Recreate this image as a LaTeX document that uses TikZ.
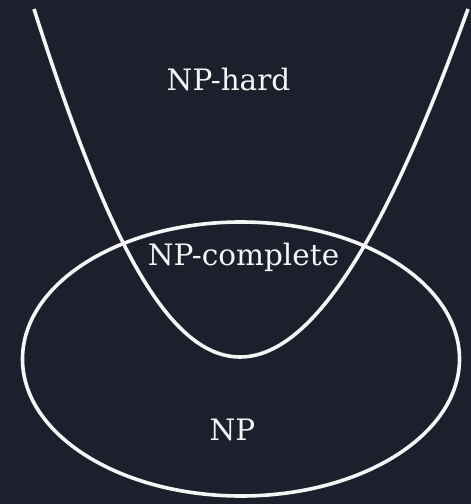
\documentclass[tikz,border=0pt]{standalone}
\usepackage{fontspec}
\setmainfont{DejaVu Serif}
\definecolor{bg}{RGB}{27,32,44}
\definecolor{ink}{RGB}{245,245,245}
\begin{document}
\begin{tikzpicture}[x=1pt,y=-1pt,
  curve/.style={draw=ink, line width=3.6pt},
  lbl/.style={text=ink, font=\fontsize{29.5}{34}\selectfont, anchor=base, inner sep=0pt}]
\fill[bg] (0,0) rectangle (471,504);
\useasboundingbox (0,0) rectangle (471,504);
\draw[curve] (241,359) ellipse [x radius=218.5, y radius=137];
\draw[curve] (34,9) .. controls (98,209) and (160,357) .. (240,357)
  .. controls (320,357) and (396,209) .. (468,9);
\node[lbl] (hard) at (228.5,90) {NP-hard};
\node[lbl] (complete) at (243.5,265) {NP-complete};
\node[lbl] (np) at (232.5,440) {NP};
\end{tikzpicture}
\end{document}
